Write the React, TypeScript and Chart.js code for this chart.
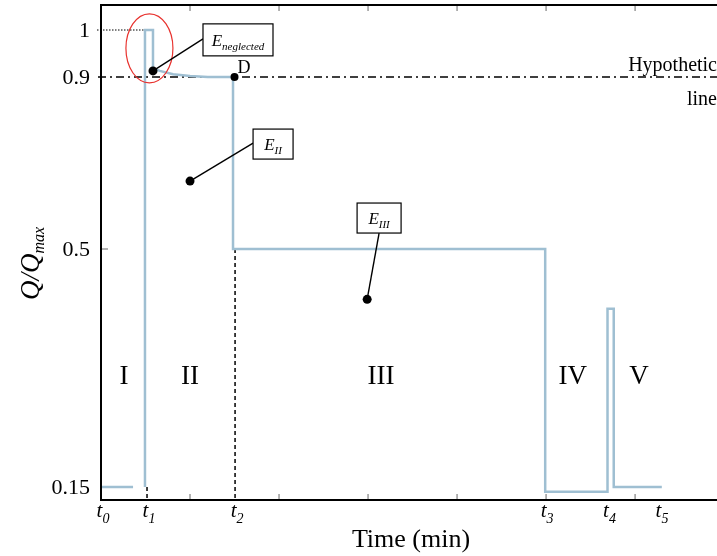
import React, { useEffect, useRef } from 'react';
import { Chart, LinearScale, registerables } from 'chart.js';

Chart.register(...registerables);

// ---------- data ----------
const curveTime = [0, 0.36, 0.42, 0.494, 0.494, 0.584, 0.584, 0.66, 0.81, 1.0, 1.2, 1.483, 1.483, 4.99, 4.99, 5.69, 5.69, 5.76, 5.76, 6.3];
const curveQ: (number | null)[] = [0.15, 0.15, null, 0.15, 1, 1, 0.919, 0.913, 0.906, 0.902, 0.9, 0.9, 0.5, 0.5, 0.143, 0.143, 0.412, 0.412, 0.15, 0.15];

const yTickValues = [1, 0.9, 0.5, 0.15];
const yTickLabels = ['1', '0.9', '0.5', '0.15'];

const timeMarkNames = ['0', '1', '2', '3', '4', '5'];
const timeMarkValues = [0, 0.517, 1.506, 4.99, 5.69, 6.28];
const majorTimeTicks = [1, 2, 3, 4, 5, 6];

const phaseNames = ['I', 'II', 'III', 'IV', 'V'];
const phaseCenters = [0.258, 1.0, 3.146, 5.3, 6.045];
const phaseLevel = 0.312;

const hypotheticLevel = 0.9;
const peakLevel = 1;
const pointD = [1.5, 0.9];

// energy annotations: dot (x, y) and label box centre (x, y)
const energyNames = ['neglected', 'II', 'III'];
const energyDotX = [0.584, 1.0, 2.99];
const energyDotY = [0.913, 0.658, 0.426];
const energyBoxX = [1.539, 1.933, 3.124];
const energyBoxY = [0.979, 0.744, 0.572];

// schematic (non-linear) y axis: value -> fraction of plot height
const yNodeValues = [0.131, 0.15, 0.5, 0.9, 1, 1.053];
const yNodeFractions = [0, 0.02626, 0.50707, 0.85455, 0.94949, 1];

const X_MIN = 0;
const X_MAX = 6.92;

const SERIF = "'Liberation Serif', 'Times New Roman', serif";

function interp(v: number, xs: number[], ys: number[]) {
  const n = xs.length;
  let i = 0;
  if (v <= xs[0]) i = 0;
  else if (v >= xs[n - 1]) i = n - 2;
  else {
    while (i < n - 2 && v > xs[i + 1]) i++;
  }
  const t = (v - xs[i]) / (xs[i + 1] - xs[i]);
  return ys[i] + t * (ys[i + 1] - ys[i]);
}

class SchematicScale extends LinearScale {
  static id = 'schematic';
  static defaults = LinearScale.defaults;
  getPixelForValue(value: any) {
    if (value === null || value === undefined || isNaN(value)) return NaN;
    const f = interp(value, yNodeValues, yNodeFractions);
    return this.bottom - f * (this.bottom - this.top);
  }
  getValueForPixel(pixel: number) {
    const f = (this.bottom - pixel) / (this.bottom - this.top);
    return interp(f, yNodeFractions, yNodeValues);
  }
}
Chart.register(SchematicScale as any);

function drawSub(ctx: CanvasRenderingContext2D, main: string, sub: string, x: number, y: number,
  mainSize: number, subSize: number, drop: number, align: 'left' | 'center', italicMain = true) {
  const mf = `${italicMain ? 'italic ' : ''}${mainSize}px ${SERIF}`;
  const sf = `italic ${subSize}px ${SERIF}`;
  ctx.font = mf;
  const w1 = ctx.measureText(main).width;
  ctx.font = sf;
  const w2 = ctx.measureText(sub).width;
  const x0 = align === 'center' ? x - (w1 + w2) / 2 : x;
  ctx.textAlign = 'left';
  ctx.textBaseline = 'alphabetic';
  ctx.font = mf;
  ctx.fillText(main, x0, y);
  ctx.font = sf;
  ctx.fillText(sub, x0 + w1, y + drop);
}

const schematicPlugin = {
  id: 'schematicPlugin',
  beforeDatasetsDraw(chart: any) {
    const ctx: CanvasRenderingContext2D = chart.ctx;
    const xs = chart.scales.x;
    const ys = chart.scales.y;
    const a = chart.chartArea;
    ctx.save();
    ctx.strokeStyle = '#000';
    // hypothetic dash-dot line
    ctx.lineWidth = 1.3;
    ctx.setLineDash([8, 4, 2, 4]);
    const yh = ys.getPixelForValue(hypotheticLevel);
    ctx.beginPath();
    ctx.moveTo(a.left - 3, yh);
    ctx.lineTo(a.right, yh);
    ctx.stroke();
    // dotted line at peak
    ctx.lineWidth = 1;
    ctx.setLineDash([1.5, 1.5]);
    const yp = ys.getPixelForValue(peakLevel);
    ctx.beginPath();
    ctx.moveTo(a.left - 4, yp);
    ctx.lineTo(xs.getPixelForValue(energyDotX[0]), yp);
    ctx.stroke();
    // dashed verticals at t1 and t2
    ctx.lineWidth = 1.5;
    ctx.setLineDash([4, 3]);
    const x1 = xs.getPixelForValue(timeMarkValues[1]);
    ctx.beginPath();
    ctx.moveTo(x1, ys.getPixelForValue(0.15));
    ctx.lineTo(x1, a.bottom);
    ctx.stroke();
    const x2 = xs.getPixelForValue(timeMarkValues[2]);
    ctx.beginPath();
    ctx.moveTo(x2, ys.getPixelForValue(0.5));
    ctx.lineTo(x2, a.bottom);
    ctx.stroke();
    ctx.restore();
  },
  afterDraw(chart: any) {
    const ctx: CanvasRenderingContext2D = chart.ctx;
    const xs = chart.scales.x;
    const ys = chart.scales.y;
    const a = chart.chartArea;
    ctx.save();
    ctx.setLineDash([]);
    // minor gray ticks
    ctx.strokeStyle = '#9a9a9a';
    ctx.lineWidth = 1.5;
    majorTimeTicks.forEach((t) => {
      const px = xs.getPixelForValue(t);
      ctx.beginPath();
      ctx.moveTo(px, a.bottom);
      ctx.lineTo(px, a.bottom - 6);
      ctx.moveTo(px, a.top);
      ctx.lineTo(px, a.top + 6);
      ctx.stroke();
    });
    const y05 = ys.getPixelForValue(0.5);
    ctx.beginPath();
    ctx.moveTo(a.left, y05);
    ctx.lineTo(a.left + 7, y05);
    ctx.stroke();

    // axes / frame
    ctx.strokeStyle = '#000';
    ctx.lineWidth = 2;
    ctx.beginPath();
    ctx.moveTo(a.right, a.top);
    ctx.lineTo(a.left, a.top);
    ctx.lineTo(a.left, a.bottom);
    ctx.lineTo(a.right, a.bottom);
    ctx.stroke();

    ctx.fillStyle = '#000';
    // y tick labels
    ctx.font = `22px ${SERIF}`;
    ctx.textAlign = 'right';
    ctx.textBaseline = 'middle';
    yTickValues.forEach((v, i) => {
      ctx.fillText(yTickLabels[i], a.left - 11, ys.getPixelForValue(v) + 1);
    });

    // x time labels
    timeMarkValues.forEach((v, i) => {
      drawSub(ctx, 't', timeMarkNames[i], xs.getPixelForValue(v) + 2, a.bottom + 17, 21, 14, 6, 'center');
    });

    // axis titles
    ctx.font = `26px ${SERIF}`;
    ctx.textAlign = 'center';
    ctx.textBaseline = 'alphabetic';
    ctx.fillText('Time (min)', (a.left + a.right) / 2 + 2, a.bottom + 47);

    ctx.save();
    ctx.translate(39, 300);
    ctx.rotate(-Math.PI / 2);
    drawSub(ctx, 'Q/Q', 'max', 0, 0, 27, 16, 5, 'left');
    ctx.restore();

    // phase numerals
    ctx.font = `27px ${SERIF}`;
    ctx.textAlign = 'center';
    ctx.textBaseline = 'middle';
    phaseNames.forEach((p, i) => {
      ctx.fillText(p, xs.getPixelForValue(phaseCenters[i]), ys.getPixelForValue(phaseLevel));
    });

    // hypothetic line text
    ctx.font = `20px ${SERIF}`;
    ctx.textAlign = 'right';
    ctx.textBaseline = 'alphabetic';
    const yh = ys.getPixelForValue(hypotheticLevel);
    ctx.fillText('Hypothetic', a.right, yh - 6);
    ctx.fillText('line', a.right, yh + 28);

    // red ellipse
    ctx.strokeStyle = '#e8322e';
    ctx.lineWidth = 1.2;
    ctx.beginPath();
    ctx.ellipse(xs.getPixelForValue(0.544), ys.getPixelForValue(0.961), 23.5, 34.5, 0, 0, Math.PI * 2);
    ctx.stroke();

    // point D
    const dx = xs.getPixelForValue(pointD[0]);
    const dy = ys.getPixelForValue(pointD[1]);
    ctx.fillStyle = '#000';
    ctx.beginPath();
    ctx.arc(dx, dy, 4, 0, Math.PI * 2);
    ctx.fill();
    ctx.font = `18px ${SERIF}`;
    ctx.textAlign = 'left';
    ctx.fillText('D', dx + 3, dy - 4);

    // energy annotations
    const boxW = [70, 40, 44];
    const boxH = [32, 30, 30];
    energyNames.forEach((name, i) => {
      const px = xs.getPixelForValue(energyDotX[i]);
      const py = ys.getPixelForValue(energyDotY[i]);
      const bx = xs.getPixelForValue(energyBoxX[i]);
      const by = ys.getPixelForValue(energyBoxY[i]);
      const w = boxW[i];
      const h = boxH[i];
      // leader
      let lx = bx - w / 2;
      let ly = by - 1;
      if (i === 2) { lx = bx; ly = by + h / 2; }
      ctx.strokeStyle = '#000';
      ctx.lineWidth = 1.4;
      ctx.beginPath();
      ctx.moveTo(lx, ly);
      ctx.lineTo(px, py);
      ctx.stroke();
      // dot
      ctx.fillStyle = '#000';
      ctx.beginPath();
      ctx.arc(px, py, 4.5, 0, Math.PI * 2);
      ctx.fill();
      // box
      ctx.fillStyle = '#fff';
      ctx.fillRect(bx - w / 2, by - h / 2, w, h);
      ctx.lineWidth = 1.2;
      ctx.strokeRect(bx - w / 2, by - h / 2, w, h);
      ctx.fillStyle = '#000';
      drawSub(ctx, 'E', name, bx, by + 6, 17, 11, 4, 'center');
    });
    ctx.restore();
  },
};

export default function App() {
  const ref = useRef<HTMLCanvasElement | null>(null);
  useEffect(() => {
    document.body.style.margin = '0';
    const canvas = ref.current!;
    const points = curveTime.map((t, i) => ({ x: t, y: curveQ[i] }));
    const chart = new Chart(canvas, {
      type: 'line',
      data: {
        datasets: [
          {
            data: points as any,
            borderColor: '#9fbfd2',
            borderWidth: 2.5,
            pointRadius: 0,
            tension: 0,
            spanGaps: false,
            fill: false,
          },
        ],
      },
      options: {
        animation: false,
        responsive: false,
        layout: { padding: { left: 101, right: 0, top: 5, bottom: 56 } },
        plugins: { legend: { display: false }, tooltip: { enabled: false } },
        scales: {
          x: { type: 'linear', min: X_MIN, max: X_MAX, display: false },
          y: { type: 'schematic' as any, min: 0.131, max: 1.053, display: false },
        },
      },
      plugins: [schematicPlugin],
    });
    return () => chart.destroy();
  }, []);
  return (
    <div style={{ width: 717, height: 556 }}>
      <canvas ref={ref} width={717} height={556} style={{ display: 'block' }} />
    </div>
  );
}
